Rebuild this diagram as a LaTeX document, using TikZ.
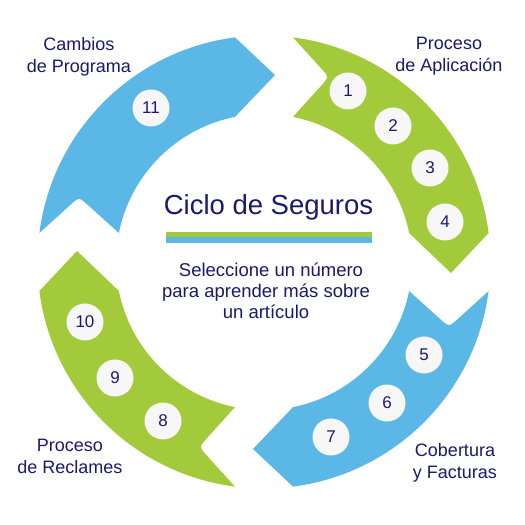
\documentclass[tikz,border=0pt]{standalone}
\usepackage{fontspec}
\setmainfont{Liberation Sans}
\definecolor{cgreen}{HTML}{A3CA3B}
\definecolor{cblue}{HTML}{5BB8E6}
\definecolor{navy}{HTML}{1A1A6C}
\definecolor{circfill}{HTML}{F7F7F7}
\newcommand\cyclearrow[2]{%
  \fill[#2] ({#1+82.64}:226.5) arc[start angle={#1+82.64}, end angle={#1+7.36}, radius=226.5pt]
    -- ({#1-3.37}:187.3) -- ({#1+11.30}:148)
    arc[start angle={#1+11.30}, end angle={#1+78.70}, radius=148pt]
    -- ({#1+72.07}:185.06) .. controls ({#1+70.64}:196.1) .. ({#1+73.64}:202.06) -- cycle;}
\begin{document}
\begin{tikzpicture}[x=1pt,y=1pt,
  num/.style={circle, fill=circfill, minimum size=37pt, inner sep=0pt, text=navy, font=\fontsize{17}{17}\selectfont},
  lbl/.style={align=center, text=navy, inner sep=0pt, font=\fontsize{18}{22}\selectfont}]
\useasboundingbox (0,0) rectangle (525,525);
\fill[white] (0,0) rectangle (525,525);
\begin{scope}[shift={(264,263)}]
  \cyclearrow{0}{cgreen}
  \cyclearrow{-90}{cblue}
  \cyclearrow{-180}{cgreen}
  \cyclearrow{-270}{cblue}
\end{scope}
\node[num] (n1) at (348,434) {1};
\node[num] (n2) at (393,399) {2};
\node[num] (n3) at (430,357) {3};
\node[num] (n4) at (445,303) {4};
\node[num] (n5) at (424,170) {5};
\node[num] (n6) at (387,122) {6};
\node[num] (n7) at (331,88) {7};
\node[num] (n8) at (163,104) {8};
\node[num] (n9) at (115,147) {9};
\node[num] (n10) at (85,203) {10};
\node[num] (n11) at (151,417) {11};
\node[lbl] (lcambios) at (79,468.6) {Cambios\\de Programa};
\node[lbl] (laplic) at (449,468.6) {Proceso\\de Aplicación};
\node[lbl] (lcob) at (455,62.6) {Cobertura\\y Facturas};
\node[lbl] (lrecl) at (70,68.2) {Proceso\\de Reclames};
\node[anchor=base, inner sep=0pt, text=navy, font=\fontsize{27.5}{30}\selectfont] (title) at (268.5,310) {Ciclo de Seguros};
\fill[cgreen] (166,287.7) rectangle (372,293.3);
\fill[cblue] (166,282.3) rectangle (372,287.7);
\node[align=center, inner sep=0pt, text=navy, font=\fontsize{18.5}{21}\selectfont] (sub) at (266,234.7) {\hspace*{10pt}Seleccione un número\\para aprender más sobre\\un artículo};
\end{tikzpicture}
\end{document}
